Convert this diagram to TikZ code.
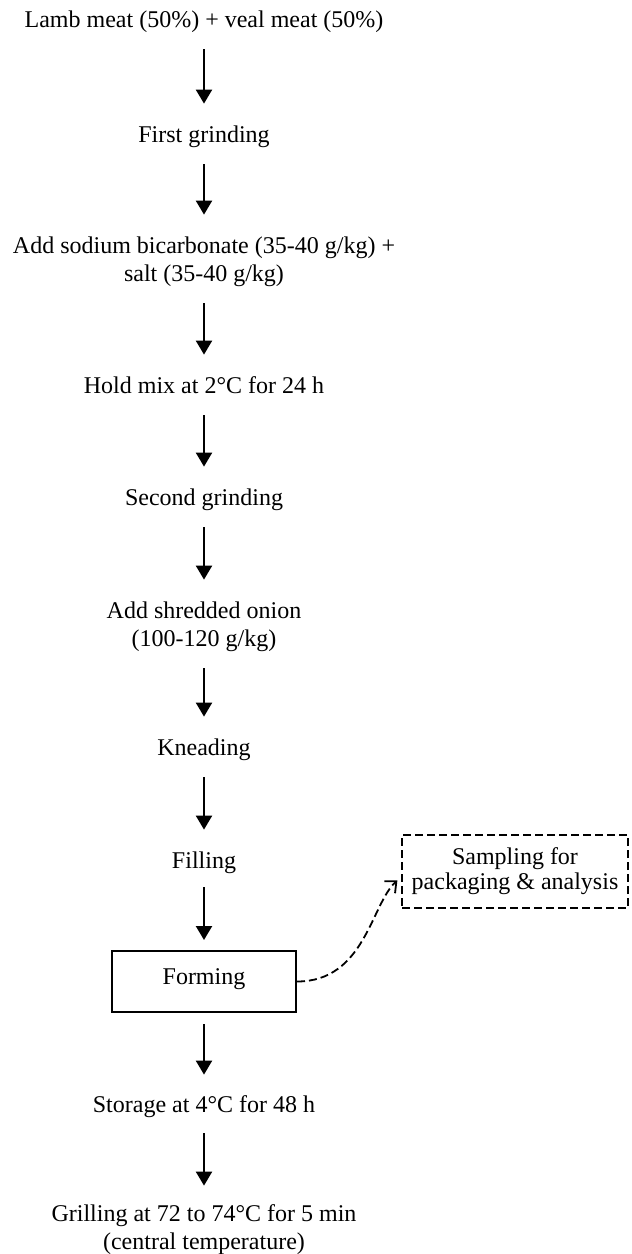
\documentclass[tikz,border=0pt]{standalone}
\usepackage{fontspec}
\setmainfont{Liberation Serif}
\usetikzlibrary{arrows.meta}
\begin{document}
\begin{tikzpicture}[x=0.5pt,y=-0.5pt,
  stage/.style={inner sep=0pt, align=center, font=\fontsize{12}{14}\selectfont},
  formbox/.style={draw, line width=1pt, inner sep=0pt, minimum width=92pt,
    minimum height=30.5pt, font=\fontsize{12}{14}\selectfont},
  sampbox/.style={draw, line width=0.9pt, dash pattern=on 4pt off 2pt,
    inner sep=0pt, minimum width=113pt, minimum height=36.5pt, align=center,
    font=\fontsize{12}{12.5}\selectfont},
  flow/.style={line width=1.1pt, -{Triangle[length=7pt,width=8pt]},
    shorten <=6.5pt, shorten >=9.5pt},
  link/.style={line width=0.9pt, dash pattern=on 4pt off 2pt,
    -{Straight Barb[length=4.5pt,width=8pt]}, shorten >=2.5pt}]
\useasboundingbox (0,0) rectangle (632,1254);

% process steps
\node[stage] (lamb)   at (204,22)   {\strut Lamb meat (50\%) + veal meat (50\%)};
\node[stage] (grind1) at (204,137)  {\strut First grinding};
\node[stage] (soda)   at (204,262)  {\strut Add sodium bicarbonate (35-40 g/kg) +\\\strut salt (35-40 g/kg)};
\node[stage] (hold)   at (204,388)  {\strut Hold mix at 2°C for 24 h};
\node[stage] (grind2) at (204,500)  {\strut Second grinding};
\node[stage] (onion)  at (204,627)  {\strut Add shredded onion\\\strut (100-120 g/kg)};
\node[stage] (knead)  at (204,750)  {\strut Kneading};
\node[stage] (fill)   at (204,863)  {\strut Filling};
\node[formbox] (form) at (204,981.5) {\raisebox{4.5pt}{Forming}};
\node[stage] (store)  at (204,1107) {\strut Storage at 4°C for 48 h};
\node[stage] (grill)  at (204,1230) {\strut Grilling at 72 to 74°C for 5 min\\\strut (central temperature)};

% side branch
\node[sampbox] (sample) at (515,871.5) {Sampling for\\packaging \& analysis};

% main flow
\draw[flow] (lamb) -- (grind1);
\draw[flow] (grind1) -- (soda);
\draw[flow] (soda) -- (hold);
\draw[flow] (hold) -- (grind2);
\draw[flow] (grind2) -- (onion);
\draw[flow] (onion) -- (knead);
\draw[flow] (knead) -- (fill);
\draw[flow, shorten <=5pt, shorten >=5pt] (fill) -- (form);
\draw[flow, shorten <=5.5pt, shorten >=9pt] (form) -- (store);
\draw[flow, shorten <=6pt, shorten >=8pt] (store) -- (grill);

% sampling connector
\draw[link] (form.east) .. controls +(34pt,0) and +(-15pt,-13.5pt) .. ([yshift=-2.75pt]sample.west);
\end{tikzpicture}
\end{document}
